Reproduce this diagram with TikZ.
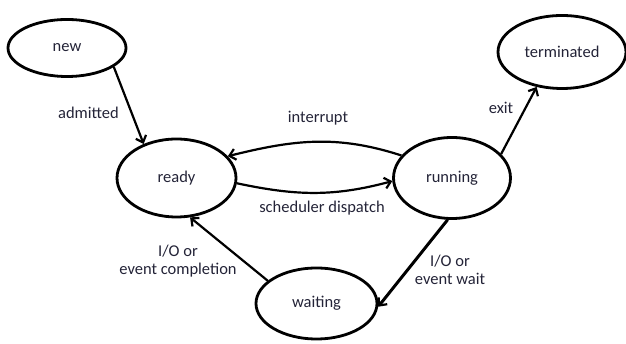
\documentclass[tikz,border=0pt]{standalone}
\usepackage{fontspec}
\setmainfont{Carlito}
\usetikzlibrary{shapes.geometric,arrows.meta}
\definecolor{txt}{RGB}{35,35,55}
\begin{document}
\begin{tikzpicture}[x=1pt,y=1pt,
  state/.style={ellipse,draw=black,line width=2.8pt,inner sep=0pt,font=\fontsize{16.5}{18}\selectfont,text=txt},
  lbl/.style={font=\fontsize{16.5}{17.5}\selectfont,text=txt,align=center,inner sep=0pt},
  edge/.style={line width=2.2pt,-{Straight Barb[length=6pt,width=11pt,line width=2.2pt]}}]
\useasboundingbox (0,0) rectangle (626,344);
\node[state,minimum width=118pt,minimum height=57pt] (new) at (67,296) {new};
\node[state,minimum width=128pt,minimum height=73pt] (term) at (562,292) {terminated};
\node[state,minimum width=119pt,minimum height=78pt] (ready) at (176.5,166) {ready};
\node[state,minimum width=117pt,minimum height=81pt] (run) at (452,166) {running};
\node[state,minimum width=121pt,minimum height=71pt] (wait) at (316.5,40.5) {waiting};

\draw[edge] (new.-22) -- (ready.134);
\draw[edge] (run.156) to[out=162,in=14] (ready.23);
\draw[edge] (ready.-5) to[out=-12,in=-165] (run.183);
\draw[edge] (run.26) -- (term.234);
\draw[edge,line width=3pt] (run.264) -- (wait.-3);
\draw[edge] (wait.155) -- (ready.-71);

\node[lbl] (ladm) at (88.5,231) {admitted};
\node[lbl] (lint) at (318,226) {interrupt};
\node[lbl] (lsch) at (322,136) {scheduler dispatch};
\node[lbl] (lexit) at (501,236) {exit};
\node[lbl] (lwait) at (450,74) {I/O or\\event wait};
\node[lbl] (lcomp) at (178,83) {I/O or\\event completion};
\end{tikzpicture}
\end{document}
